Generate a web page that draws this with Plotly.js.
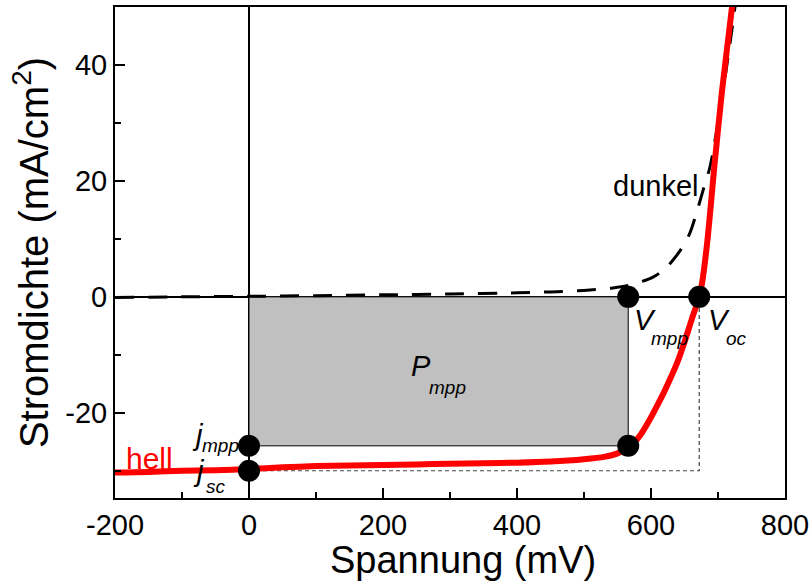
<!DOCTYPE html>
<html>
<head>
<meta charset="utf-8">
<script src="https://cdn.plot.ly/plotly-3.0.1.min.js"></script>
<style>html,body{margin:0;padding:0;background:#fff;}#chart{width:811px;height:583px;}</style>
</head>
<body>
<div id="chart"></div>
<script>
// Illuminated ("hell") J-V curve
const hellV = [-200, -150, -100, -50, 0, 50, 100, 150, 200, 250, 300, 350, 400, 450, 500, 530, 550, 566, 575, 585, 598, 610, 620, 630, 639, 650, 661, 672, 676, 684, 695, 706, 722, 730];
const hellJ = [-30.3, -30.2, -30.0, -29.9, -29.7, -29.4, -29.2, -29.1, -29.0, -28.9, -28.8, -28.7, -28.6, -28.4, -28.0, -27.6, -27.0, -26.0, -25.1, -23.7, -21.2, -18.6, -16.3, -13.8, -11.4, -7.8, -3.8, 0, 2.2, 9.5, 23, 35.5, 51, 59];
// Dark ("dunkel") J-V curve
const dunkV = [-200, -100, 0, 100, 200, 300, 400, 450, 500, 540, 564, 603, 624, 646, 658, 668, 678, 688, 703, 718, 730];
const dunkJ = [-0.1, 0.0, 0.1, 0.2, 0.35, 0.5, 0.7, 0.85, 1.1, 1.5, 1.9, 3.4, 5.2, 8.4, 11.0, 14.5, 18.5, 22.4, 32.2, 43.8, 54];
// Characteristic points
const Vmpp = 566;
const Voc = 672;
const jmpp = -25.7;
const jsc = -30.0;
// Tick labels
const xTickVals = [-200, 0, 200, 400, 600, 800];
const xTickText = ['-200', '0', '200', '400', '600', '800'];
const yTickVals = [-20, 0, 20, 40];
const yTickText = ['-20', '0', '20', '40'];

const traces = [
  { // j_sc x V_oc guide (thin dashed)
    x: [0, Voc, Voc], y: [jsc, jsc, 0],
    mode: 'lines', line: {color: '#444', width: 1.2, dash: '4px,3px'},
    hoverinfo: 'skip', showlegend: false
  },
  { // P_mpp rectangle
    x: [0, Vmpp, Vmpp, 0, 0], y: [0, 0, jmpp, jmpp, 0],
    mode: 'lines', fill: 'toself', fillcolor: '#c0c0c0',
    line: {color: '#000', width: 1}, showlegend: false
  },
  {
    x: dunkV, y: dunkJ, mode: 'lines', line: {color: '#000', width: 3, dash: '19px,14px', shape: 'spline', smoothing: 0.8},
    showlegend: false
  },
  {
    x: hellV, y: hellJ, mode: 'lines', line: {color: '#ff0000', width: 6, shape: 'spline', smoothing: 0.8},
    showlegend: false
  },
  {
    x: [0, 0, Vmpp, Voc, Vmpp], y: [jmpp, jsc, 0, 0, jmpp],
    mode: 'markers', marker: {color: '#000', size: 22}, showlegend: false
  }
];

const F = 'Liberation Sans, Arial, sans-serif';
function ann(text, x, y, size, color, italic) {
  return {x: x, y: y, xref: 'x', yref: 'y', text: italic ? '<i>' + text + '</i>' : text,
    showarrow: false, xanchor: 'center', yanchor: 'middle',
    font: {family: F, size: size, color: color || '#000'}};
}

const layout = {
  width: 811, height: 583,
  margin: {l: 115, r: 26, t: 7, b: 85},
  paper_bgcolor: '#fff', plot_bgcolor: '#fff',
  font: {family: F, color: '#000'},
  xaxis: {
    range: [-200, 800], tickvals: xTickVals, ticktext: xTickText,
    ticks: 'inside', ticklen: 10, tickwidth: 2, tickcolor: '#000',
    minor: {ticks: 'inside', ticklen: 6, tickwidth: 1.5, tickcolor: '#000', dtick: 100, tick0: 0},
    showline: true, linewidth: 2, linecolor: '#000', mirror: true,
    showgrid: false, zeroline: true, zerolinewidth: 2, zerolinecolor: '#000',
    tickfont: {family: F, size: 29, color: '#000'}
  },
  yaxis: {
    range: [-34.7, 50], tickvals: yTickVals, ticktext: yTickText,
    ticks: 'inside', ticklen: 10, tickwidth: 2, tickcolor: '#000',
    minor: {ticks: 'inside', ticklen: 6, tickwidth: 1.5, tickcolor: '#000', dtick: 10, tick0: 0},
    showline: true, linewidth: 2, linecolor: '#000', mirror: true,
    showgrid: false, zeroline: true, zerolinewidth: 2, zerolinecolor: '#000',
    tickfont: {family: F, size: 29, color: '#000'},
    title: {text: 'Stromdichte (mA/cm<sup>2</sup>)', font: {family: F, size: 40, color: '#000'}, standoff: 4}
  },
  annotations: [
    {text: 'Spannung (mV)', xref: 'paper', yref: 'paper', x: 0.519, y: -0.127,
     xanchor: 'center', yanchor: 'middle', showarrow: false,
     font: {family: F, size: 38, color: '#000'}},
    ann('hell', -148, -27.8, 30, '#ff0000'),
    ann('dunkel', 606, 19.1, 29),
    ann('P', 257, -11.9, 29, '#000', true),
    ann('mpp', 297, -15.6, 19, '#000', true),
    ann('V', 591, -4, 29, '#000', true),
    ann('mpp', 628, -7.2, 19, '#000', true),
    ann('V', 701, -4, 29, '#000', true),
    ann('oc', 728, -7.2, 19, '#000', true),
    ann('j', -76, -23.8, 29, '#000', true),
    ann('mpp', -43, -25.7, 19, '#000', true),
    ann('j', -75, -30.0, 29, '#000', true),
    ann('sc', -49, -32.8, 19, '#000', true)
  ],
  showlegend: false
};

Plotly.newPlot('chart', traces, layout, {displayModeBar: false, staticPlot: true});
</script>
</body>
</html>
